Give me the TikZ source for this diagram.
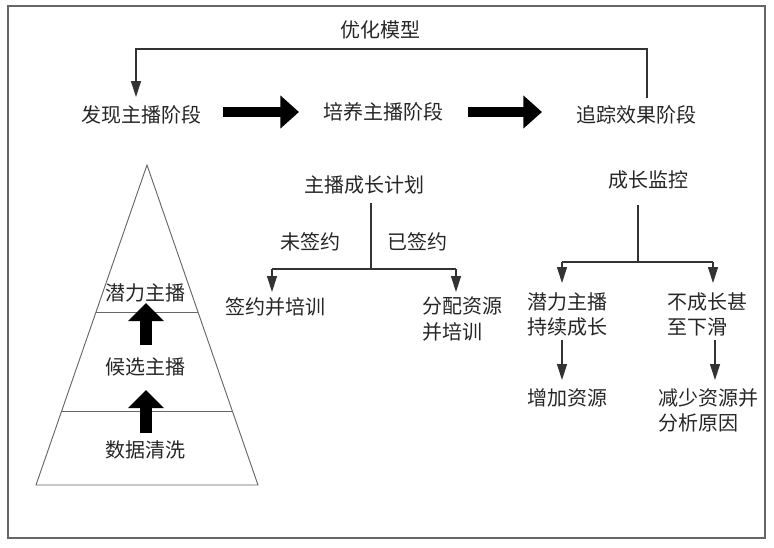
\documentclass[tikz,border=0pt]{standalone}
\usepackage{fontspec}
\newfontfamily\cjk{Noto Sans CJK SC}
\usetikzlibrary{arrows.meta}
\begin{document}
\begin{tikzpicture}[x=0.75pt,y=-0.75pt,
  txt/.style={font=\cjk\fontsize{15pt}{19pt}\selectfont, text=black!85, inner sep=0pt},
  mtxt/.style={txt, align=left, anchor=north west},
  ln/.style={draw=black!80, line width=0.9pt},
  arr/.style={ln, -{Triangle[length=12pt,width=7.5pt]}},
  bigarr/.style={draw=black, line width=7.5pt, -{Triangle[length=14pt,width=24pt]}},
  uparr/.style={draw=black, line width=9pt, -{Triangle[length=13.5pt,width=26pt]}},
  pyr/.style={draw=black!60, line width=0.7pt}]
\useasboundingbox (0,0) rectangle (774,547);
\draw[draw=black!60, line width=1.5pt] (8,6) rectangle (765,538);

% top row
\node[txt] (opt) at (380,30) {优化模型};
\node[txt] (find) at (141,115) {发现主播阶段};
\node[txt] (train) at (383,112) {培养主播阶段};
\node[txt] (track) at (636,115) {追踪效果阶段};

\coordinate (fbR) at (647,98);
\coordinate (fbL) at (136,97);
\coordinate (fbT) at (390,49);
\draw[arr] (fbR) |- (fbT) -| (fbL);

\coordinate (a1s) at (223,112);
\coordinate (a1e) at (299,112);
\coordinate (a2s) at (468,112);
\coordinate (a2e) at (542,112);
\draw[bigarr] (a1s) -- (a1e);
\draw[bigarr] (a2s) -- (a2e);

% pyramid
\draw[pyr] (147,165) -- (258,485) -- (36,485) -- cycle;
\draw[pyr] (96,312) -- (198,312);
\draw[pyr] (62,411) -- (232,411);
\node[txt] (p1) at (145,293) {潜力主播};
\node[txt] (p2) at (145,367) {候选主播};
\node[txt] (p3) at (145,450) {数据清洗};
\coordinate (u1s) at (146,345);
\coordinate (u1e) at (146,303);
\coordinate (u2s) at (146,433);
\coordinate (u2e) at (146,390);
\draw[uparr] (u1s) -- (u1e);
\draw[uparr] (u2s) -- (u2e);

% middle branch
\node[txt] (plan) at (364,185) {主播成长计划};
\coordinate (j1t) at (371,203);
\coordinate (j1) at (371,269);
\coordinate (j1L) at (272,269);
\coordinate (j1R) at (456,269);
\coordinate (j1Le) at (272,292);
\coordinate (j1Re) at (456,292);
\draw[ln] (j1t) -- (j1);
\draw[ln] (j1L) -- (j1R);
\draw[arr] (j1L) -- (j1Le);
\draw[arr] (j1R) -- (j1Re);
\node[txt] (uns) at (310,242) {未签约};
\node[txt] (sig) at (417,242) {已签约};
\node[txt] (sign) at (275,307) {签约并培训};
\node[mtxt] (alloc) at (422,297) {分配资源\\并培训};

% right branch
\node[txt] (mon) at (648,180) {成长监控};
\coordinate (j2t) at (638,205);
\coordinate (j2) at (638,262);
\coordinate (j2L) at (562,262);
\coordinate (j2R) at (713,262);
\coordinate (j2Le) at (562,283);
\coordinate (j2Re) at (713,283);
\draw[ln] (j2t) -- (j2);
\draw[ln] (j2L) -- (j2R);
\draw[arr] (j2L) -- (j2Le);
\draw[arr] (j2R) -- (j2Re);
\node[mtxt] (grow) at (527,292) {潜力主播\\持续成长};
\node[mtxt] (decl) at (667,292) {不成长甚\\至下滑};
\coordinate (b1s) at (562,340);
\coordinate (b1e) at (562,380);
\coordinate (b2s) at (715,340);
\coordinate (b2e) at (715,380);
\draw[arr] (b1s) -- (b1e);
\draw[arr] (b2s) -- (b2e);
\node[mtxt] (inc) at (527,388) {增加资源};
\node[mtxt] (dec) at (658,388) {减少资源并\\分析原因};
\end{tikzpicture}
\end{document}
